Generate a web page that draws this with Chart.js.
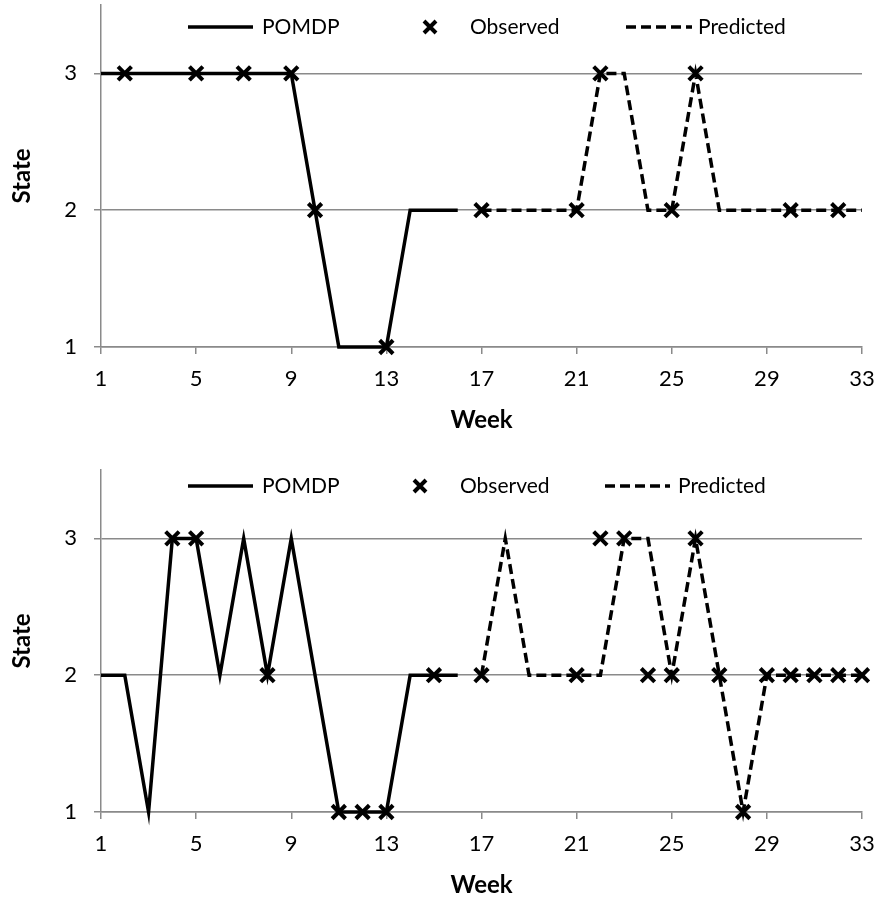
<!DOCTYPE html>
<html>
<head>
<meta charset="utf-8">
<script src="https://cdn.jsdelivr.net/npm/chart.js@4/dist/chart.umd.min.js"></script>
<style>
  html, body { margin: 0; padding: 0; background: #fff; overflow: hidden; }
  #wrap { position: relative; width: 877px; height: 898px; }
  canvas { position: absolute; left: 0; }
  #c1 { top: 0; }
  #c2 { top: 465px; }
</style>
</head>
<body>
<div id="wrap">
  <canvas id="c1" width="877" height="433"></canvas>
  <canvas id="c2" width="877" height="433"></canvas>
</div>
<script>
// ---------- Data ----------
const xTickLabels = [1, 5, 9, 13, 17, 21, 25, 29, 33];
const yTickLabels = [1, 2, 3];
const seriesNames = ['POMDP', 'Observed', 'Predicted'];

const pomdpWeeks = [1, 2, 3, 4, 5, 6, 7, 8, 9, 10, 11, 12, 13, 14, 15, 16];
const predWeeks = [17, 18, 19, 20, 21, 22, 23, 24, 25, 26, 27, 28, 29, 30, 31, 32, 33];

// Top chart
const pomdp1 = [3, 3, 3, 3, 3, 3, 3, 3, 3, 2, 1, 1, 1, 2, 2, 2];
const pred1 = [2, 2, 2, 2, 2, 3, 3, 2, 2, 3, 2, 2, 2, 2, 2, 2, 2];
const obsWeeks1 = [2, 5, 7, 9, 10, 13, 17, 21, 22, 25, 26, 30, 32];
const obs1 = [3, 3, 3, 3, 2, 1, 2, 2, 3, 2, 3, 2, 2];

// Bottom chart
const pomdp2 = [2, 2, 1, 3, 3, 2, 3, 2, 3, 2, 1, 1, 1, 2, 2, 2];
const pred2 = [2, 3, 2, 2, 2, 2, 3, 3, 2, 3, 2, 1, 2, 2, 2, 2, 2];
const obsWeeks2 = [4, 5, 8, 11, 12, 13, 15, 17, 21, 22, 23, 24, 25, 26, 27, 28, 29, 30, 31, 32, 33];
const obs2 = [3, 3, 2, 1, 1, 1, 2, 2, 2, 3, 3, 2, 2, 3, 2, 1, 2, 2, 2, 2, 2];

// ---------- Styling ----------
const FONT = 'Lato, "Open Sans", sans-serif';
const GRID = '#8a8a8a';
const LINE_W = 3.5;
const MARK_W = 4;
const DASH = [10, 5];

function pts(xs, ys) { return xs.map((x, i) => ({ x: x, y: ys[i] })); }
function noPad(s) { s.paddingTop = 0; s.paddingBottom = 0; s.paddingLeft = 0; s.paddingRight = 0; }

const legendPlugin = {
  id: 'xlLegend',
  afterDraw(chart, args, o) {
    const ctx = chart.ctx;
    const y = o.y;
    ctx.save();
    ctx.strokeStyle = '#000';
    ctx.lineCap = 'butt';
    ctx.lineWidth = LINE_W;
    ctx.setLineDash([]);
    ctx.beginPath(); ctx.moveTo(o.line[0], y); ctx.lineTo(o.line[1], y); ctx.stroke();
    const r = 6;
    ctx.lineWidth = MARK_W;
    ctx.beginPath();
    ctx.moveTo(o.cross - r, y - r); ctx.lineTo(o.cross + r, y + r);
    ctx.moveTo(o.cross + r, y - r); ctx.lineTo(o.cross - r, y + r);
    ctx.stroke();
    ctx.lineWidth = LINE_W;
    ctx.setLineDash(DASH);
    ctx.beginPath(); ctx.moveTo(o.dash[0], y); ctx.lineTo(o.dash[1], y); ctx.stroke();
    ctx.setLineDash([]);
    ctx.fillStyle = '#000';
    ctx.font = '21px ' + FONT;
    ctx.textBaseline = 'middle';
    ctx.textAlign = 'left';
    ctx.fillText(seriesNames[0], o.t1, y);
    ctx.fillText(seriesNames[1], o.t2, y);
    ctx.fillText(seriesNames[2], o.t3, y);
    ctx.restore();
  }
};

function makeChart(id, pomdp, pred, obsW, obs, legendOpts) {
  return new Chart(document.getElementById(id), {
    type: 'line',
    data: {
      datasets: [
        {
          label: seriesNames[1],
          data: pts(obsW, obs),
          showLine: false,
          pointStyle: 'crossRot',
          pointRadius: 9.5,
          pointBorderWidth: MARK_W,
          pointBorderColor: '#000',
          pointBackgroundColor: '#000',
          borderColor: '#000',
          order: 0,
          clip: false
        },
        {
          label: seriesNames[0],
          data: pts(pomdpWeeks, pomdp),
          borderColor: '#000',
          borderWidth: LINE_W,
          pointRadius: 0,
          tension: 0,
          order: 1,
          clip: false
        },
        {
          label: seriesNames[2],
          data: pts(predWeeks, pred),
          borderColor: '#000',
          borderWidth: LINE_W,
          borderDash: DASH,
          pointRadius: 0,
          tension: 0,
          order: 2,
          clip: false
        }
      ]
    },
    options: {
      responsive: false,
      animation: false,
      devicePixelRatio: 1,
      events: [],
      layout: { autoPadding: false, padding: { top: 5, right: 15, left: 0, bottom: 0 } },
      plugins: {
        legend: { display: false },
        tooltip: { enabled: false },
        xlLegend: legendOpts
      },
      scales: {
        x: {
          type: 'linear',
          min: 1,
          max: 33,
          afterBuildTicks: (s) => { s.ticks = xTickLabels.map(v => ({ value: v })); },
          afterFit: (s) => { s.height = 86; noPad(s); },
          ticks: {
            color: '#000',
            font: { family: FONT, size: 22 },
            padding: 12,
            maxRotation: 0,
            autoSkip: false,
            callback: (v) => String(v)
          },
          grid: { drawOnChartArea: false, drawTicks: true, tickLength: 7, color: GRID, lineWidth: 1.5 },
          border: { display: true, color: GRID, width: 1.5 },
          title: {
            display: true,
            text: 'Week',
            color: '#000',
            font: { family: FONT, size: 24, weight: 'bold' },
            padding: { top: 0, bottom: -2 }
          }
        },
        y: {
          type: 'linear',
          min: 1,
          max: 3.5,
          afterBuildTicks: (s) => { s.ticks = yTickLabels.map(v => ({ value: v })); },
          afterFit: (s) => { s.width = 101; noPad(s); },
          ticks: {
            color: '#000',
            font: { family: FONT, size: 22 },
            padding: 17,
            callback: (v) => String(v)
          },
          grid: { drawOnChartArea: true, drawTicks: true, tickLength: 7, color: GRID, lineWidth: 1.5 },
          border: { display: true, color: GRID, width: 1.5 },
          title: {
            display: true,
            text: 'State',
            color: '#000',
            font: { family: FONT, size: 24, weight: 'bold' },
            padding: { top: 8, bottom: 0 }
          }
        }
      }
    },
    plugins: [legendPlugin]
  });
}

makeChart('c1', pomdp1, pred1, obsWeeks1, obs1,
  { y: 27, line: [188, 253], t1: 262, cross: 430, t2: 470, dash: [626, 692], t3: 698 });
makeChart('c2', pomdp2, pred2, obsWeeks2, obs2,
  { y: 21, line: [188, 253], t1: 262, cross: 420, t2: 460, dash: [605, 670], t3: 678 });
</script>
</body>
</html>
